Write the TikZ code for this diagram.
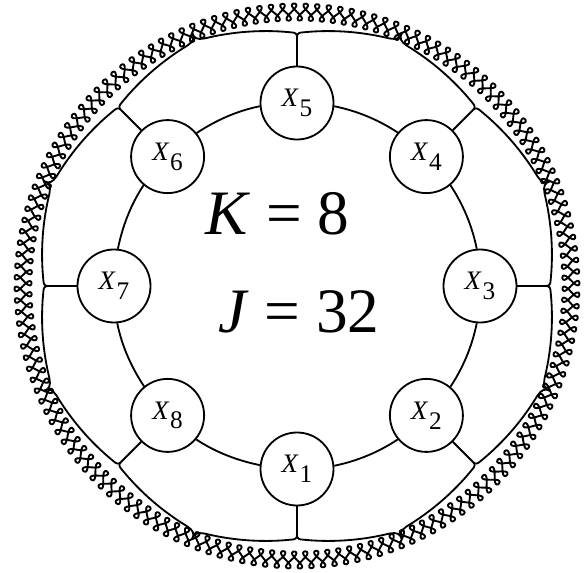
\documentclass[tikz,border=0pt]{standalone}
\usepackage{fontspec}
\setmainfont{Liberation Serif}
\newcommand{\xsub}[1]{\textit{X}\kern0.5pt\raisebox{-7pt}{\fontsize{18}{18}\selectfont #1}}

\begin{document}
\begin{tikzpicture}[x=0.025cm, y=0.025cm,
    wire/.style={line width=1.3pt},
    unit/.style={circle, draw, line width=1.3pt, fill=white, minimum size=1.825cm,
        inner sep=0pt, font=\fontsize{19}{19}\selectfont},
    spring/.style={line width=1.35pt, line join=round},
    bigtext/.style={anchor=base west, inner sep=0pt, font=\fontsize{45}{45}\selectfont}]
    \useasboundingbox (-297,-286) rectangle (288,286);
    % Outer spring ring, one eighth (19 turns) at a time
    \foreach \s in {0,...,7}
        \draw[spring, rotate=45*\s]
            plot[domain=0:6840, samples=609, variable=\u]
                ({(\u + 112*sin(2*\u))/152}:{274 + 8.5*sin(\u)});
    % Units on the inner ring
    \foreach \k in {1,...,8}
        \node[unit] (X\k) at ({-90 + 45*(\k-1)}:183) {\xsub{\k}};
    % Inner ring, unit to unit
    \foreach \k in {1,...,8}{
        \pgfmathtruncatemacro{\n}{mod(\k,8)+1}
        \pgfmathsetmacro{\a}{-90 + 45*(\k-1)}
        \draw[wire] (X\k.{\a+95.72}) to[out=\a+101.45, in=\a-56.45, looseness=0.86] (X\n.{\a-50.72});
    }
    % Stems and branches out to the spring
    \foreach \k in {1,...,8}{
        \pgfmathsetmacro{\a}{-90 + 45*(\k-1)}
        \coordinate (J\k) at (\a:249);
        \draw[wire] (X\k) -- (J\k);
        \draw[wire] (J\k) .. controls (\a:252.5) and (\a+0.4:253.6) .. (\a+1.5:253.8)
            -- plot[domain=1.5:20.5, samples=12, smooth, variable=\t] (\a+\t:{253 + 0.55*\t})
            .. controls (\a+22:265.6) and (\a+22.6:268) .. (\a+22.5:274);
        \draw[wire] (J\k) .. controls (\a:252.5) and (\a-0.4:253.6) .. (\a-1.5:253.8)
            -- plot[domain=1.5:20.5, samples=12, smooth, variable=\t] (\a-\t:{253 + 0.55*\t})
            .. controls (\a-22:265.6) and (\a-22.6:268) .. (\a-22.5:274);
    }
    % Parameters
    \node[bigtext] (kval) at (-92,51) {\textit{K} = 8};
    \node[bigtext] (jval) at (-79,-46) {\textit{J} = 32};
\end{tikzpicture}
\end{document}
